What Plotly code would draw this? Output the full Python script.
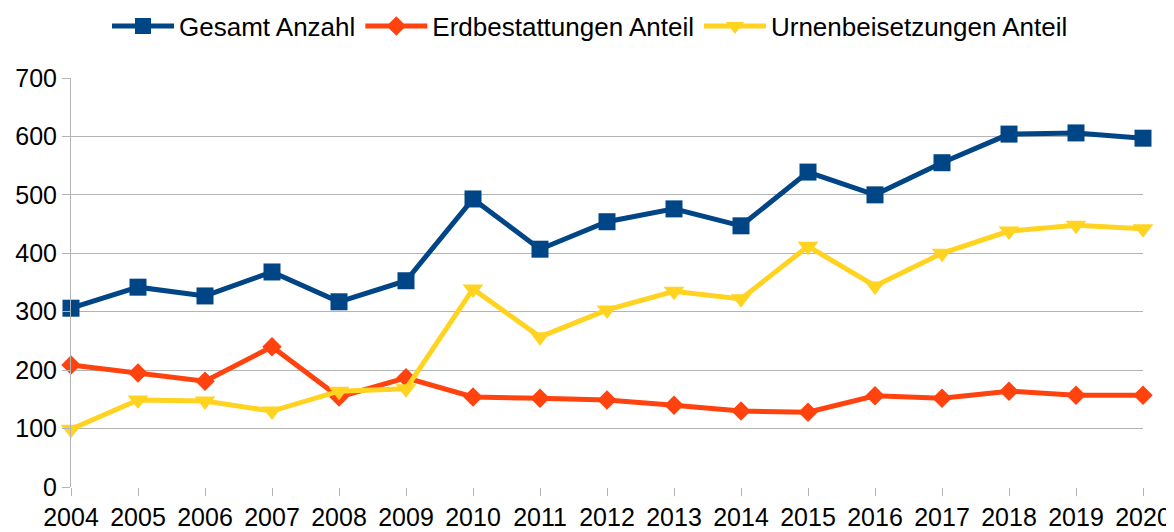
import plotly.graph_objects as go

years = list(range(2004, 2021))
gesamt = [306, 342, 327, 368, 317, 353, 493, 407, 454, 476, 447, 539, 500, 555, 604, 606, 597]
erd = [209, 195, 181, 240, 154, 187, 154, 152, 149, 140, 130, 128, 156, 152, 164, 157, 157]
urnen = [99, 149, 147, 130, 164, 168, 339, 257, 303, 335, 322, 412, 344, 400, 438, 448, 442]
names = ["Gesamt Anzahl", "Erdbestattungen Anteil", "Urnenbeisetzungen Anteil"]
colors = ["#004586", "#ff420e", "#ffd320"]
symbols = ["square", "diamond", "triangle-down"]
sizes = [17, 15, 18]

W, H = 1166, 524

fig = go.Figure()
for vals, name, col, sym, sz in zip([gesamt, erd, urnen], names, colors, symbols, sizes):
    fig.add_trace(go.Scatter(
        x=years, y=vals, name=name, mode="lines+markers",
        line=dict(color=col, width=5),
        marker=dict(symbol=sym, size=sz, color=col),
        cliponaxis=False,
    ))

fig.update_layout(
    width=W, height=H,
    margin=dict(l=63, r=31, t=70, b=45, autoexpand=False),
    paper_bgcolor="white", plot_bgcolor="white",
    font=dict(family="Liberation Sans, Arial, sans-serif", size=25, color="black"),
    legend=dict(orientation="h", xref="container", x=(590 - 8) / W, xanchor="center",
                y=1 - 18 / H, yanchor="middle",
                yref="container", font=dict(size=26), itemwidth=62, tracegroupgap=0),
    xaxis=dict(range=[2004, 2020], tickmode="array", tickvals=years,
               ticktext=[str(y) for y in years], showgrid=False, zeroline=False,
               ticks="outside", ticklen=8, tickcolor="#b3b3b3", showline=False,
               tickfont=dict(size=25), automargin=False),
    yaxis=dict(range=[0, 700], dtick=100, showgrid=True, gridcolor="#b3b3b3", gridwidth=1,
               zeroline=False, ticks="outside", ticklen=8, tickcolor="#b3b3b3",
               showline=True, linecolor="#b3b3b3", linewidth=1, tickfont=dict(size=25),
               automargin=False),
)
fig.write_html("out.html")
